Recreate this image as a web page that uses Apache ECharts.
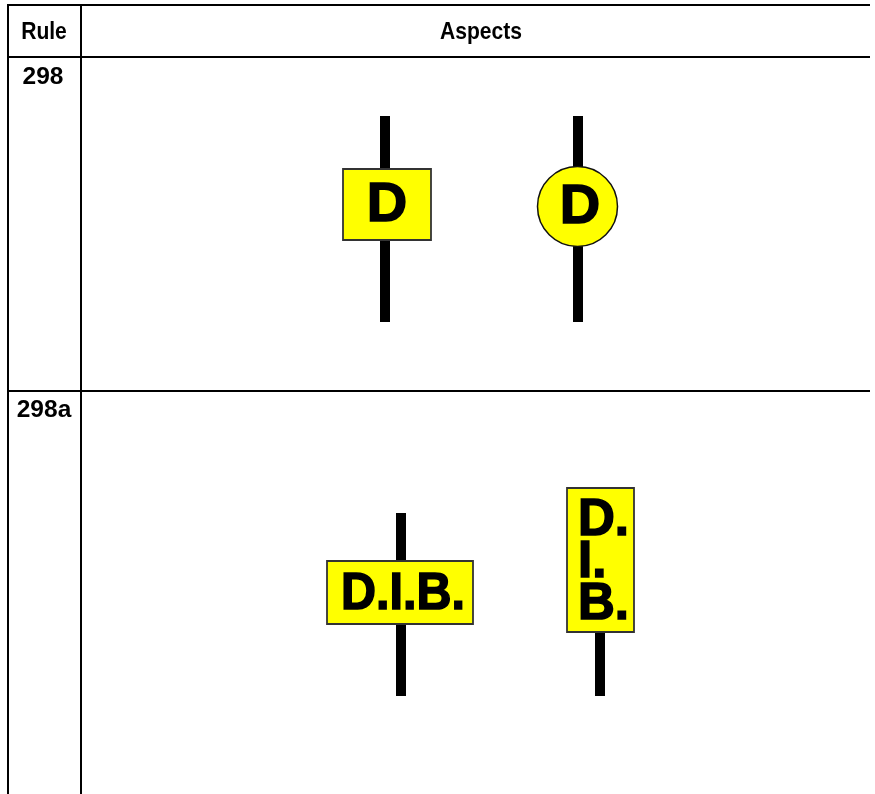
<!DOCTYPE html>
<html><head><meta charset="utf-8">
<script src="https://cdn.jsdelivr.net/npm/echarts@6/dist/echarts.min.js"></script>
<style>html,body{margin:0;padding:0;background:#fff}#c{width:875px;height:794px}</style>
</head><body><div id="c"></div>
<script>
// ---- content ----
const headers = ['Rule', 'Aspects'];
const rules = ['298', '298a'];
const aspectRule = [0, 0, 1, 1];
const aspectShape = ['rect', 'circle', 'rect', 'rect'];
const aspectText = ['D', 'D', 'D.I.B.', 'D.\nI.\nB.'];

// ---- layout (pixel space of the 875x794 canvas) ----
const W = 875, H = 794;
const table = { left: 8, colDiv: 81, top: 5, headerBottom: 57, rowLines: [391], right: 870 };
const headerPos = [[44, 32], [481, 32]];
const rulePos = [[43, 77], [44, 410]];
const poles = [[385, 116, 322], [578, 116, 322], [401, 513, 696], [600, 632, 696]];
const boards = [
  { x0: 343, y0: 169, x1: 431, y1: 240 },
  { cx: 577.5, cy: 206.5, r: 40 },
  { x0: 327, y0: 561, x1: 473, y1: 624 },
  { x0: 567, y0: 488, x1: 634, y1: 632 }
];
const textPos = [
  { x: 387, y: 206, size: 56, align: 'center', sx: 1 },
  { x: 580, y: 208, size: 56, align: 'center', sx: 1 },
  { x: 403, y: 595, size: 51, align: 'center', sx: 0.95 },
  { x: 578, y: 563, size: 51, align: 'left', lh: 42, sx: 1 }
];

const chart = echarts.init(document.getElementById('c'), null, { renderer: 'canvas' });
const headFont = '"Liberation Sans", Arial, sans-serif';
const signFont = '"Liberation Sans", Arial, sans-serif';

function tableItem(params, api) {
  const c = p => api.coord(p);
  const lines = [];
  const seg = (a, b) => {
    const p = c(a), q = c(b);
    lines.push({ type: 'line', shape: { x1: p[0], y1: p[1], x2: q[0], y2: q[1] }, style: { stroke: '#000', lineWidth: 2 } });
  };
  seg([table.left - 1, table.top], [table.right, table.top]);
  seg([table.left - 1, table.headerBottom], [table.right, table.headerBottom]);
  table.rowLines.forEach(y => seg([table.left - 1, y], [table.right, y]));
  seg([table.left, table.top], [table.left, H]);
  seg([table.colDiv, table.top], [table.colDiv, H]);
  const txt = (s, p, sx) => ({ type: 'text', x: p[0], y: p[1], scaleX: sx, style: { text: s, fontFamily: headFont, fontSize: 24.5, fontWeight: 'bold', fill: '#000', align: 'center', verticalAlign: 'middle' } });
  headers.forEach((h, i) => lines.push(txt(h, c(headerPos[i]), 0.86)));
  rules.forEach((r, i) => lines.push(txt(r, c(rulePos[i]), 1)));
  return { type: 'group', children: lines };
}

function signItem(params, api) {
  const i = api.value(0);
  const c = p => api.coord(p);
  const ch = [];
  const pl = poles[i];
  const a = c([pl[0] - 5, pl[1]]), b = c([pl[0] + 5, pl[2]]);
  ch.push({ type: 'rect', shape: { x: a[0], y: a[1], width: b[0] - a[0], height: b[1] - a[1] }, style: { fill: '#000' } });
  const bd = boards[i];
  if (aspectShape[i] === 'circle') {
    const p = c([bd.cx, bd.cy]);
    ch.push({ type: 'circle', shape: { cx: p[0], cy: p[1], r: bd.r }, style: { fill: '#ffff00', stroke: '#111', lineWidth: 1.5 } });
  } else {
    const p = c([bd.x0, bd.y0]), q = c([bd.x1, bd.y1]);
    ch.push({ type: 'rect', shape: { x: p[0], y: p[1], width: q[0] - p[0], height: q[1] - p[1] }, style: { fill: '#ffff00', stroke: '#333', lineWidth: 1.8 } });
  }
  const t = textPos[i];
  const tp = c([t.x, t.y]);
  ch.push({ type: 'text', x: tp[0], y: tp[1], scaleX: t.sx, style: { text: aspectText[i], fontFamily: signFont, fontSize: t.size, fontWeight: 'bold', fill: '#000', stroke: '#000', lineWidth: 1.6, align: t.align, verticalAlign: 'middle', lineHeight: t.lh || t.size } });
  return { type: 'group', children: ch };
}

chart.setOption({
  animation: false,
  backgroundColor: '#fff',
  grid: { left: 0, top: 0, right: 0, bottom: 0 },
  xAxis: { type: 'value', min: 0, max: W, show: false },
  yAxis: { type: 'value', min: 0, max: H, inverse: true, show: false },
  series: [
    { type: 'custom', renderItem: tableItem, data: [[0]], silent: true },
    { type: 'custom', renderItem: signItem, data: aspectRule.map((r, i) => [i, r]), silent: true }
  ]
});
</script>
</body></html>
